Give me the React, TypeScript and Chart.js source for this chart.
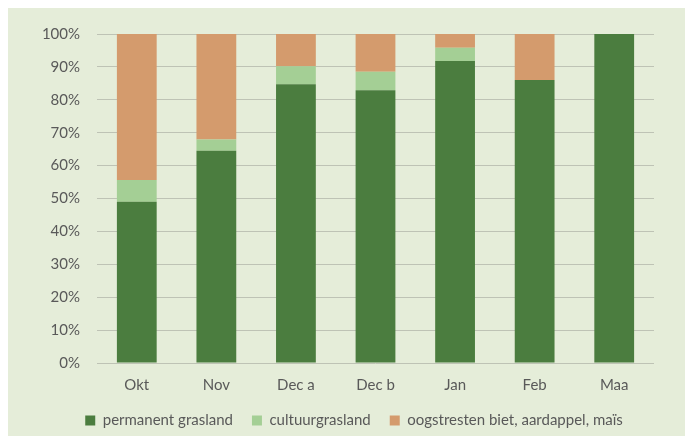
import React, { useEffect, useRef } from "react";
import { Chart, registerables } from "chart.js";

Chart.register(...registerables);

// Months on the x axis
const categories = ["Okt", "Nov", "Dec a", "Dec b", "Jan", "Feb", "Maa"];

// Share per land-use type (percent of total)
const permanentGrasland = [49, 64.5, 84.7, 82.9, 91.8, 86, 100];
const cultuurgrasland = [6.6, 3.4, 5.5, 5.6, 4.0, 0, 0];
const oogstresten = [44.4, 32.1, 9.8, 11.5, 4.2, 14, 0];

const seriesNames = ["permanent grasland", "cultuurgrasland", "oogstresten biet, aardappel, maïs"];

const FONT = "Lato, 'Open Sans', sans-serif";
const TEXT = "#595959";

// Nudge the legend row a little to the right after layout
const legendShift = {
  id: "legendShift",
  afterLayout(chart: any) {
    if (chart.legend) {
      chart.legend.left += 23;
      chart.legend.right += 23;
    }
  },
};

export default function App() {
  const ref = useRef<HTMLCanvasElement | null>(null);

  useEffect(() => {
    if (!ref.current) return;
    const chart = new Chart(ref.current, {
      type: "bar",
      data: {
        labels: categories,
        datasets: [
          { label: seriesNames[0], data: permanentGrasland, backgroundColor: "#4b7d3f", borderWidth: 0 },
          { label: seriesNames[1], data: cultuurgrasland, backgroundColor: "#a4cf95", borderWidth: 0 },
          { label: seriesNames[2], data: oogstresten, backgroundColor: "#d49b6d", borderWidth: 0 },
        ],
      },
      plugins: [legendShift],
      options: {
        animation: false,
        responsive: false,
        maintainAspectRatio: false,
        layout: { padding: { top: 24, right: 31, bottom: -2, left: 0 } },
        datasets: { bar: { barPercentage: 0.5, categoryPercentage: 1 } },
        plugins: {
          tooltip: { enabled: false },
          legend: {
            position: "bottom",
            labels: {
              boxWidth: 10,
              boxHeight: 10,
              padding: 19,
              color: TEXT,
              font: { family: FONT, size: 15 },
            },
          },
        },
        scales: {
          x: {
            stacked: true,
            afterFit: (axis: any) => {
              axis.height = 31;
            },
            grid: { display: false },
            border: { display: false },
            ticks: { color: TEXT, font: { family: FONT, size: 15 }, padding: 5 },
          },
          y: {
            stacked: true,
            min: 0,
            max: 100,
            afterFit: (axis: any) => {
              axis.width = 89;
            },
            grid: { color: "#bec3b5", lineWidth: 1, drawTicks: false },
            border: { display: false },
            ticks: {
              stepSize: 10,
              padding: 17,
              color: TEXT,
              font: { family: FONT, size: 15 },
              callback: (v: any) => v + "%",
            },
          },
        },
      },
    });
    return () => chart.destroy();
  }, []);

  return (
    <div style={{ width: 677, height: 428, background: "#e5edd9" }}>
      <canvas ref={ref} width={677} height={428} style={{ display: "block" }} />
    </div>
  );
}
